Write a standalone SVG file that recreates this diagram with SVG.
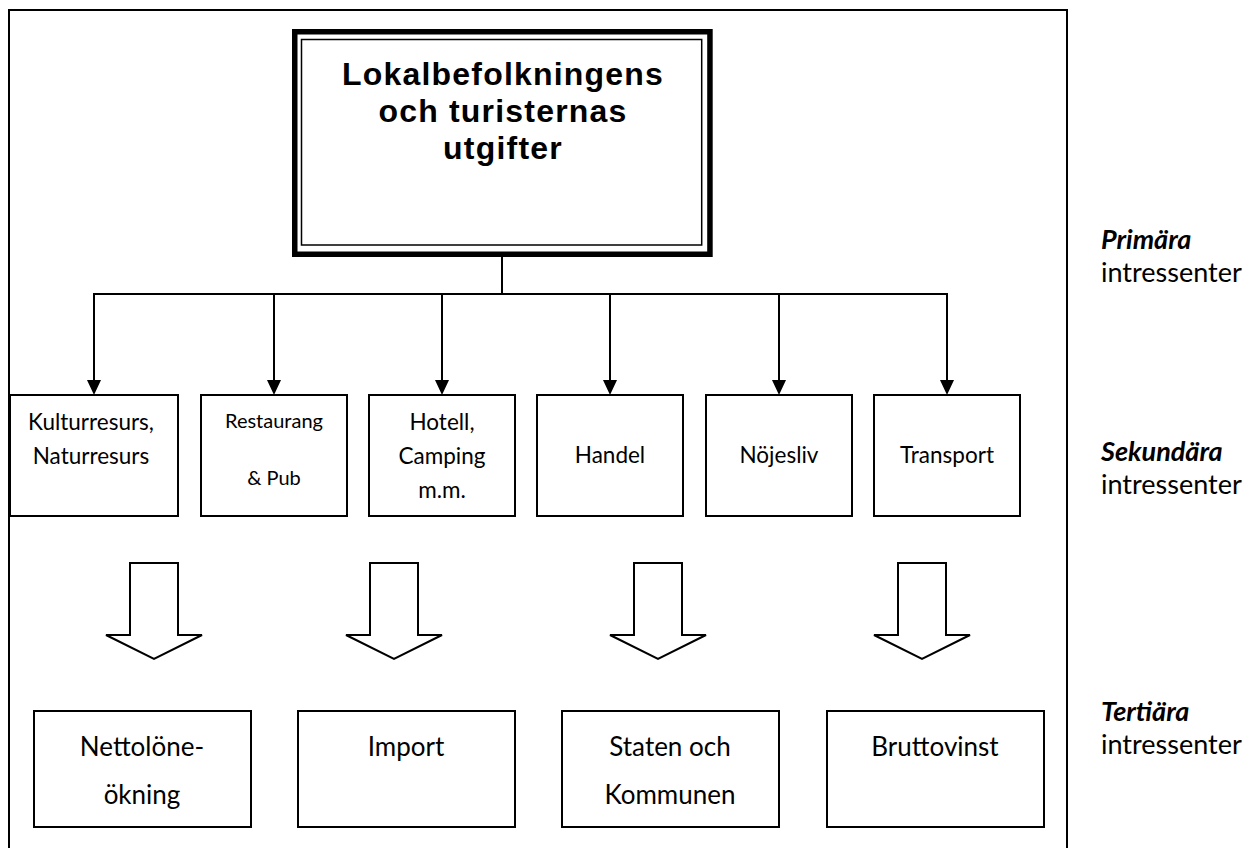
<svg xmlns="http://www.w3.org/2000/svg" width="1254" height="848" viewBox="0 0 1254 848">
<style>
  .box { fill: #fff; stroke: #000; stroke-width: 2; }
  .conn { fill: none; stroke: #000; stroke-width: 2; }
  .hollow { fill: #fff; stroke: #000; stroke-width: 2; stroke-linejoin: miter; }
  .title { font-family: "Liberation Sans", Arial, sans-serif; font-weight: bold; font-size: 32px; letter-spacing: 1.2px; text-anchor: middle; fill: #000; }
  .sec { font-family: Lato, "Open Sans", sans-serif; font-size: 22.5px; text-anchor: middle; fill: #000; }
  .sec-s { font-family: Lato, "Open Sans", sans-serif; font-size: 20px; text-anchor: middle; fill: #000; }
  .ter { font-family: Lato, "Open Sans", sans-serif; font-size: 26px; text-anchor: middle; fill: #000; }
  .lvl { font-family: Lato, "Open Sans", sans-serif; font-size: 27px; fill: #000; }
  .lvl-b { font-weight: bold; font-style: italic; }
</style>
<rect width="1254" height="848" fill="#fff"/>

<g id="frame">
  <rect x="9" y="10" width="1058" height="850" fill="none" stroke="#000" stroke-width="2"/>
</g>

<g id="connectors">
  <line class="conn" x1="502" y1="257" x2="502" y2="294"/>
  <line class="conn" x1="94" y1="294" x2="947" y2="294"/>
  <line class="conn" x1="94" y1="293" x2="94" y2="380"/>
  <line class="conn" x1="274" y1="293" x2="274" y2="380"/>
  <line class="conn" x1="442" y1="293" x2="442" y2="380"/>
  <line class="conn" x1="610" y1="293" x2="610" y2="380"/>
  <line class="conn" x1="779" y1="293" x2="779" y2="380"/>
  <line class="conn" x1="947" y1="293" x2="947" y2="380"/>
  <path d="M87,380 L101,380 L94,395 Z" fill="#000"/>
  <path d="M267,380 L281,380 L274,395 Z" fill="#000"/>
  <path d="M435,380 L449,380 L442,395 Z" fill="#000"/>
  <path d="M603,380 L617,380 L610,395 Z" fill="#000"/>
  <path d="M772,380 L786,380 L779,395 Z" fill="#000"/>
  <path d="M940,380 L954,380 L947,395 Z" fill="#000"/>
  <polygon class="hollow" points="130,563 178,563 178,635 202,635 154,659 106,635 130,635"/>
  <polygon class="hollow" points="370,563 418,563 418,635 442,635 394,659 346,635 370,635"/>
  <polygon class="hollow" points="634,563 682,563 682,635 706,635 658,659 610,635 634,635"/>
  <polygon class="hollow" points="898,563 946,563 946,635 970,635 922,659 874,635 898,635"/>
</g>

<g id="node-main">
  <rect x="294.75" y="31.75" width="415.2" height="222.5" fill="#fff" stroke="#000" stroke-width="5.5"/>
  <rect x="301.5" y="39.5" width="400.2" height="205.5" fill="none" stroke="#000" stroke-width="1.5"/>
  <text class="title" x="503" y="85">Lokalbefolkningens</text>
  <text class="title" x="503" y="122">och turisternas</text>
  <text class="title" x="503" y="159">utgifter</text>
</g>

<g id="node-kultur">
  <rect class="box" x="10" y="395" width="168" height="121"/>
  <text class="sec" x="91" y="430">Kulturresurs,</text>
  <text class="sec" x="91" y="464">Naturresurs</text>
</g>
<g id="node-restaurang">
  <rect class="box" x="201" y="395" width="146" height="121"/>
  <text class="sec-s" x="274" y="428">Restaurang</text>
  <text class="sec-s" x="274" y="485">&amp; Pub</text>
</g>
<g id="node-hotell">
  <rect class="box" x="369" y="395" width="146" height="121"/>
  <text class="sec" x="442" y="430">Hotell,</text>
  <text class="sec" x="442" y="464">Camping</text>
  <text class="sec" x="442" y="498">m.m.</text>
</g>
<g id="node-handel">
  <rect class="box" x="537" y="395" width="146" height="121"/>
  <text class="sec" x="610" y="463">Handel</text>
</g>
<g id="node-nojesliv">
  <rect class="box" x="706" y="395" width="146" height="121"/>
  <text class="sec" x="779" y="463">Nöjesliv</text>
</g>
<g id="node-transport">
  <rect class="box" x="874" y="395" width="146" height="121"/>
  <text class="sec" x="947" y="463">Transport</text>
</g>

<g id="node-netto">
  <rect class="box" x="34" y="711" width="217" height="116"/>
  <text class="ter" x="142" y="756">Nettolöne-</text>
  <text class="ter" x="142" y="804">ökning</text>
</g>
<g id="node-import">
  <rect class="box" x="298" y="711" width="217" height="116"/>
  <text class="ter" x="406" y="756">Import</text>
</g>
<g id="node-staten">
  <rect class="box" x="562" y="711" width="217" height="116"/>
  <text class="ter" x="670" y="756">Staten och</text>
  <text class="ter" x="670" y="804">Kommunen</text>
</g>
<g id="node-brutto">
  <rect class="box" x="827" y="711" width="217" height="116"/>
  <text class="ter" x="935" y="756">Bruttovinst</text>
</g>

<g id="labels">
  <text class="lvl lvl-b" x="1101" y="249">Primära</text>
  <text class="lvl" x="1101" y="282">intressenter</text>
  <text class="lvl lvl-b" x="1101" y="461">Sekundära</text>
  <text class="lvl" x="1101" y="494">intressenter</text>
  <text class="lvl lvl-b" x="1101" y="721">Tertiära</text>
  <text class="lvl" x="1101" y="754">intressenter</text>
</g>
</svg>
